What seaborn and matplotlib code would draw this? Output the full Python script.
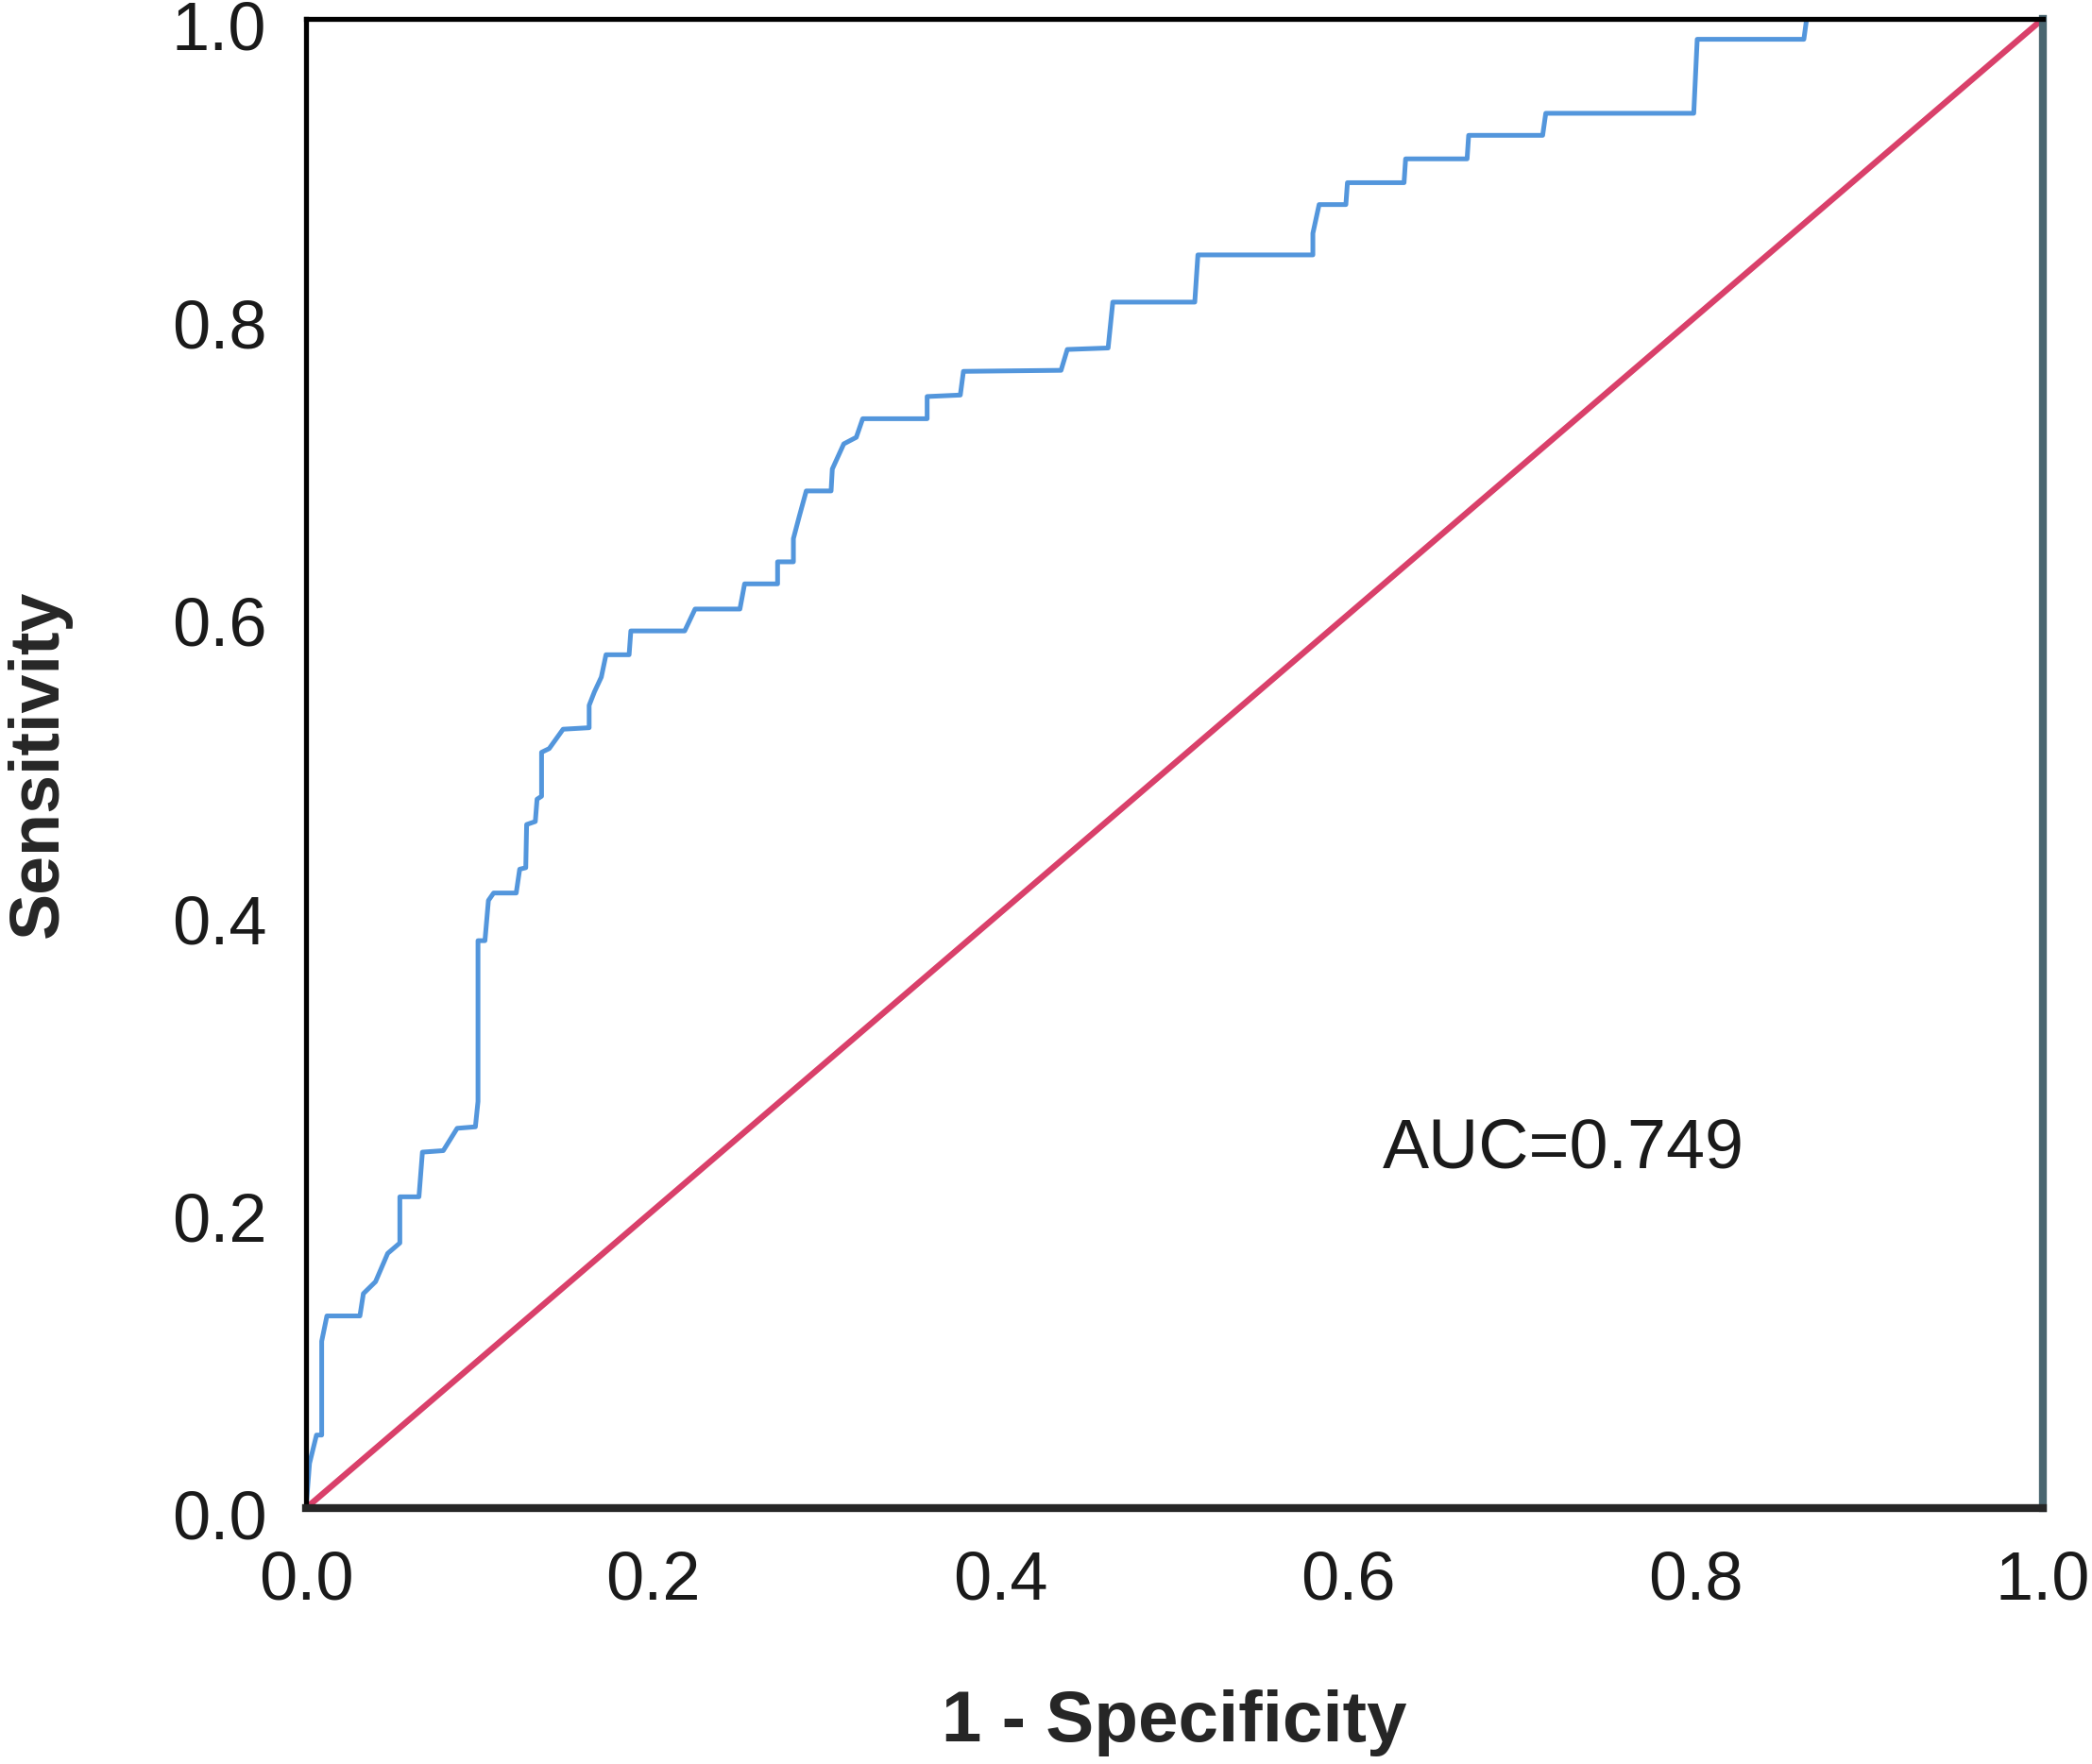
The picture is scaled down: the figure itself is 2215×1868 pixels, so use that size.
import matplotlib
matplotlib.use("Agg")
import matplotlib.pyplot as plt
import matplotlib.transforms as mtransforms
import seaborn as sns
import pandas as pd

# ROC curve vertices (1 - specificity, sensitivity)
fpr = [0.000, 0.002, 0.006, 0.009, 0.009, 0.012, 0.031, 0.033, 0.040, 0.047,
       0.054, 0.054, 0.065, 0.067, 0.079, 0.087, 0.0975, 0.099, 0.099, 0.103,
       0.105, 0.108, 0.121, 0.123, 0.1265, 0.127, 0.132, 0.133, 0.1356, 0.1356,
       0.140, 0.148, 0.163, 0.163, 0.166, 0.170, 0.1727, 0.186, 0.187, 0.218,
       0.224, 0.2498, 0.2525, 0.2715, 0.2715, 0.2806, 0.2806, 0.284, 0.288, 0.3023,
       0.303, 0.3096, 0.3168, 0.3205, 0.3576, 0.3576, 0.3767, 0.3785, 0.4347, 0.4383,
       0.4618, 0.4645, 0.5117, 0.5135, 0.5797, 0.5797, 0.5833, 0.5987, 0.5996, 0.6322,
       0.6331, 0.6685, 0.6694, 0.712, 0.7138, 0.799, 0.801, 0.8624, 0.864, 1.000]
tpr = [0.000, 0.030, 0.049, 0.049, 0.112, 0.129, 0.129, 0.144, 0.152, 0.171,
       0.178, 0.209, 0.209, 0.239, 0.240, 0.255, 0.256, 0.273, 0.381, 0.381,
       0.408, 0.413, 0.413, 0.429, 0.430, 0.459, 0.461, 0.476, 0.478, 0.5075,
       0.510, 0.523, 0.524, 0.539, 0.548, 0.558, 0.573, 0.573, 0.589, 0.589,
       0.6037, 0.6037, 0.6206, 0.6206, 0.6354, 0.6354, 0.651, 0.666, 0.683, 0.683,
       0.6977, 0.7146, 0.719, 0.7315, 0.7315, 0.7464, 0.7474, 0.7633, 0.764, 0.778,
       0.779, 0.8098, 0.8098, 0.8415, 0.8415, 0.856, 0.8753, 0.8753, 0.890, 0.890,
       0.906, 0.906, 0.9218, 0.9218, 0.9366, 0.9366, 0.9863, 0.9863, 1.000, 1.000]

# reference (chance) line
ref_x = [0.0, 1.0]
ref_y = [0.0, 1.0]

tick_vals = [0.0, 0.2, 0.4, 0.6, 0.8, 1.0]
tick_labels = ["0.0", "0.2", "0.4", "0.6", "0.8", "1.0"]
auc_text = "AUC=0.749"

sns.set_theme(style="white")
plt.rcParams["font.family"] = ["Liberation Sans", "DejaVu Sans"]

fig = plt.figure(figsize=(22.15, 18.68), dpi=100)
ax = fig.add_axes([0.1463, 0.1451, 0.8302, 0.8442])

roc = pd.DataFrame({"fpr": fpr, "tpr": tpr})
ref = pd.DataFrame({"x": ref_x, "y": ref_y})

sns.lineplot(data=ref, x="x", y="y", ax=ax, color="#d9406a", linewidth=4.6,
             sort=False, estimator=None)
sns.lineplot(data=roc, x="fpr", y="tpr", ax=ax, color="#5396dc", linewidth=3.6,
             sort=False, estimator=None)

ax.set_xlim(0, 1)
ax.set_ylim(0, 1)
ax.set_xticks(tick_vals)
ax.set_xticklabels(tick_labels)
ax.set_yticks(tick_vals)
ax.set_yticklabels(tick_labels)
ax.tick_params(axis="x", length=0, pad=32, labelsize=52, labelcolor="#1a1a1a")
ax.tick_params(axis="y", length=0, pad=30, labelsize=52, labelcolor="#1a1a1a")

# y tick labels sit a little below their gridline in the reference
shift = mtransforms.ScaledTranslation(0, -0.07, fig.dpi_scale_trans)
for lab in ax.get_yticklabels():
    lab.set_transform(lab.get_transform() + shift)

ax.set_xlabel("1 - Specificity", fontsize=55, fontweight="bold", labelpad=58)
ax.set_ylabel("Sensitivity", fontsize=53, fontweight="bold", labelpad=76)

ax.text(0.62, 0.241, auc_text, fontsize=53, va="center", ha="left", color="#1a1a1a")

for side in ["left", "top"]:
    ax.spines[side].set_color("black")
    ax.spines[side].set_linewidth(3.8)
ax.spines["bottom"].set_color("#262626")
ax.spines["bottom"].set_linewidth(6)
ax.spines["right"].set_color("#4a6670")
ax.spines["right"].set_linewidth(6)

ax.grid(False)
fig.savefig("out.png", dpi=100, facecolor="white")
